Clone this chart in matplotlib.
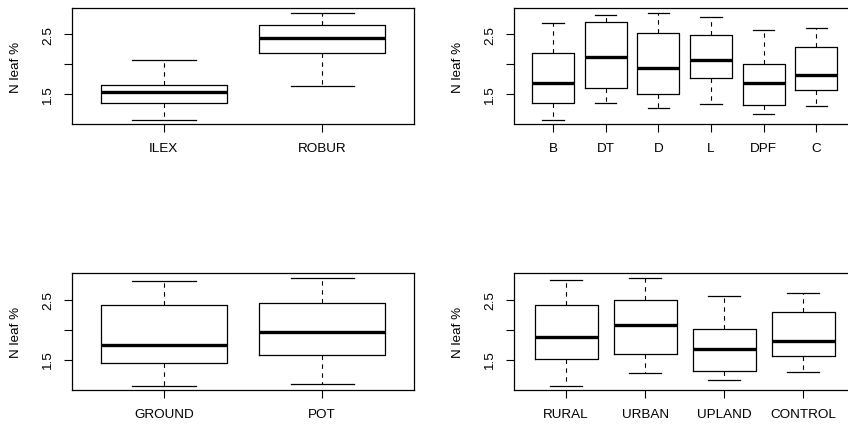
import matplotlib
matplotlib.use('Agg')
import matplotlib.pyplot as plt

plt.rcParams['font.family'] = ['Liberation Sans', 'DejaVu Sans']
plt.rcParams['font.size'] = 9.7

# box stats: low whisker, Q1, median, Q3, high whisker
species = ['ILEX', 'ROBUR']
species_lo = [1.07, 1.633]
species_q1 = [1.35, 2.19]
species_med = [1.545, 2.44]
species_q3 = [1.66, 2.655]
species_hi = [2.07, 2.86]

treat = ['B', 'DT', 'D', 'L', 'DPF', 'C']
treat_lo = [1.072, 1.35, 1.277, 1.343, 1.167, 1.30]
treat_q1 = [1.36, 1.61, 1.505, 1.767, 1.317, 1.567]
treat_med = [1.688, 2.117, 1.938, 2.077, 1.688, 1.817]
treat_q3 = [2.188, 2.71, 2.527, 2.488, 2.005, 2.283]
treat_hi = [2.693, 2.827, 2.86, 2.793, 2.567, 2.60]

soil = ['GROUND', 'POT']
soil_lo = [1.073, 1.107]
soil_q1 = [1.457, 1.59]
soil_med = [1.757, 1.973]
soil_q3 = [2.417, 2.44]
soil_hi = [2.817, 2.867]

site = ['RURAL', 'URBAN', 'UPLAND', 'CONTROL']
site_lo = [1.073, 1.278, 1.167, 1.295]
site_q1 = [1.512, 1.607, 1.323, 1.562]
site_med = [1.883, 2.078, 1.69, 1.823]
site_q3 = [2.407, 2.5, 2.007, 2.29]
site_hi = [2.823, 2.862, 2.567, 2.607]

W, H = 848, 427
fig = plt.figure(figsize=(W / 100, H / 100), dpi=100)


def rbox(rect, labels, lo, q1, med, q3, hi):
    x0, y0, x1, y1 = rect
    ax = fig.add_axes([x0 / W, 1 - y1 / H, (x1 - x0) / W, (y1 - y0) / H])
    stats = []
    for i in range(len(labels)):
        stats.append(dict(whislo=lo[i], q1=q1[i], med=med[i], q3=q3[i],
                          whishi=hi[i], fliers=[], label=labels[i]))
    n = len(labels)
    ax.bxp(stats, positions=range(1, n + 1), widths=0.8, capwidths=0.4,
           showfliers=False,
           boxprops=dict(color='black', linewidth=0.9),
           whiskerprops=dict(color='black', linewidth=0.8, linestyle=(0, (4, 4))),
           capprops=dict(color='black', linewidth=0.9),
           medianprops=dict(color='black', linewidth=2.4, solid_capstyle='butt'))
    ax.set_xlim(0.5 - 0.04 * n, n + 0.5 + 0.04 * n)
    ax.set_ylim(1.005, 2.942)
    ax.set_yticks([1.5, 2.0, 2.5])
    ax.set_yticklabels(['1.5', '', '2.5'], rotation=90, va='center')
    ax.set_xticks(range(1, n + 1))
    ax.set_xticklabels(labels)
    ax.tick_params(axis='x', length=6, width=0.8, pad=7)
    ax.tick_params(axis='y', length=6, width=0.8, pad=7)
    for s in ax.spines.values():
        s.set_linewidth(0.9)
    ax.set_ylabel('N leaf %', va='center')
    ax.yaxis.set_label_coords(-56.3 / (x1 - x0), 0.5)
    return ax


rbox((72, 9, 414, 125), species, species_lo, species_q1, species_med, species_q3, species_hi)
rbox((514, 9, 855.3, 125), treat, treat_lo, treat_q1, treat_med, treat_q3, treat_hi)
rbox((72, 274.3, 414, 390.7), soil, soil_lo, soil_q1, soil_med, soil_q3, soil_hi)
rbox((514, 274.3, 855.3, 390.7), site, site_lo, site_q1, site_med, site_q3, site_hi)

fig.savefig('out.png', dpi=100)
